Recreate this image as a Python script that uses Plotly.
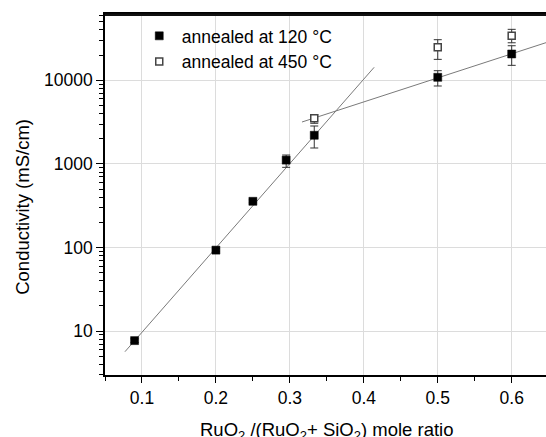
import plotly.graph_objects as go

# ---- data ----
x_120 = [0.09, 0.2, 0.25, 0.295, 0.333, 0.5, 0.6]
y_120 = [7.7, 93, 357, 1110, 2200, 10860, 20650]
err_120_plus = [0.4, 4, 15, 167, 640, 2170, 5250]
err_120_minus = [0.4, 4, 15, 200, 650, 2310, 5550]

x_450 = [0.333, 0.5, 0.6]
y_450 = [3510, 24830, 34200]
err_450_plus = [340, 5770, 6500]
err_450_minus = [450, 7030, 6100]

fit_low_x = [0.077, 0.414]
fit_low_y = [5.67, 14300]
fit_high_x = [0.3164, 0.6464]
fit_high_y = [3170, 28200]

x_ticks = [0.1, 0.2, 0.3, 0.4, 0.5, 0.6]
y_ticks = [10, 100, 1000, 10000]
y_minor = [m * 10 ** d for d in range(0, 5) for m in range(2, 10)]

FONT = "Liberation Sans, Arial, sans-serif"

fig = go.Figure()

fig.add_trace(go.Scatter(x=fit_low_x, y=fit_low_y, mode="lines",
                         line=dict(color="#7a7a7a", width=1), showlegend=False, hoverinfo="skip"))
fig.add_trace(go.Scatter(x=fit_high_x, y=fit_high_y, mode="lines",
                         line=dict(color="#7a7a7a", width=1), showlegend=False, hoverinfo="skip"))

fig.add_trace(go.Scatter(
    x=x_120, y=y_120, mode="markers", name="annealed at 120 °C",
    marker=dict(symbol="square", size=8, color="black", line=dict(color="black", width=0.5)),
    error_y=dict(type="data", symmetric=False, array=err_120_plus, arrayminus=err_120_minus,
                 color="#333333", thickness=1, width=4),
))
fig.add_trace(go.Scatter(
    x=x_450, y=y_450, mode="markers", name="annealed at 450 °C",
    marker=dict(symbol="square", size=7, color="white", line=dict(color="#444444", width=1.5)),
    error_y=dict(type="data", symmetric=False, array=err_450_plus, arrayminus=err_450_minus,
                 color="#333333", thickness=1, width=4),
))

fig.update_layout(
    width=546, height=437,
    margin=dict(l=105, r=0, t=14, b=62),
    paper_bgcolor="white", plot_bgcolor="white",
    font=dict(family=FONT, size=17.5, color="black"),
    showlegend=True,
    legend=dict(x=0.072, y=0.989, xanchor="left", yanchor="top",
                bgcolor="rgba(0,0,0,0)", borderwidth=0,
                font=dict(family=FONT, size=17.5, color="black"), itemwidth=35),
    xaxis=dict(
        range=[0.05, 0.6464], tickvals=x_ticks, ticktext=[str(v) for v in x_ticks],
        showline=True, linecolor="black", linewidth=1.5, mirror=True,
        ticks="outside", ticklen=6, tickwidth=1.2, tickcolor="black",
        showgrid=True, gridcolor="#dcdcdc", gridwidth=1, zeroline=False,
        minor=dict(ticks="outside", ticklen=4, tickwidth=1.2, tickcolor="black",
                   tick0=0.05, dtick=0.1, showgrid=False),
        tickfont=dict(size=17.5),
    ),
    yaxis=dict(
        type="log", range=[0.475, 4.793], tickvals=y_ticks, ticktext=[str(v) for v in y_ticks],
        showline=True, linecolor="black", linewidth=1.5, mirror=False,
        ticks="outside", ticklen=7, tickwidth=1.2, tickcolor="black",
        showgrid=True, gridcolor="#dcdcdc", gridwidth=1, zeroline=False,
        minor=dict(ticks="outside", ticklen=4, tickwidth=1, tickcolor="black",
                   tickmode="array", tickvals=y_minor, showgrid=False),
        tickfont=dict(size=17.5),
    ),
    shapes=[
        dict(type="line", xref="x domain", yref="y domain", x0=0, x1=1, y0=0.998, y1=0.998,
             line=dict(color="#111111", width=2.5), layer="above"),
    ],
    annotations=[
        dict(text="Conductivity (mS/cm)", xref="paper", yref="paper", x=-0.189, y=0.465,
             xanchor="center", yanchor="middle", textangle=-90, showarrow=False,
             font=dict(family=FONT, size=18.5, color="black")),
        dict(text="RuO<sub>2</sub> /(RuO<sub>2</sub>+ SiO<sub>2</sub>) mole ratio",
             xref="paper", yref="paper", x=0.502, y=-0.116, xanchor="center", yanchor="top",
             showarrow=False, font=dict(family=FONT, size=18.5, color="black")),
    ],
)

fig.write_html("out.html")
